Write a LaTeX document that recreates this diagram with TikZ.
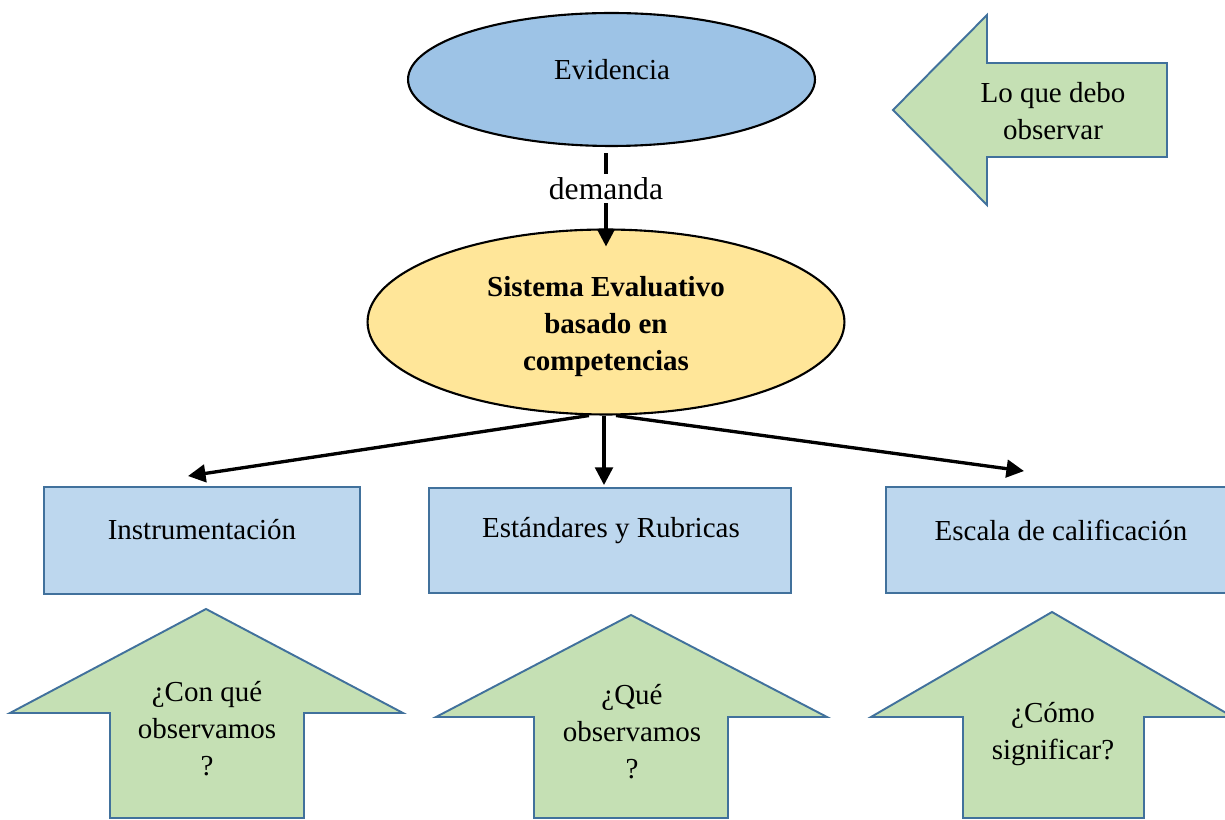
\documentclass[tikz,border=0pt]{standalone}
\usepackage{fontspec}
\setmainfont{Liberation Serif}
\usetikzlibrary{shapes.geometric,arrows.meta,calc}
\definecolor{evblue}{HTML}{9DC3E6}
\definecolor{sisyel}{HTML}{FFE699}
\definecolor{boxblue}{HTML}{BDD7EE}
\definecolor{edgeblue}{HTML}{41719C}
\definecolor{shapegreen}{HTML}{C5E0B4}
\begin{document}
\begin{tikzpicture}[x=0.02cm,y=-0.02cm,
  every node/.style={font=\fontsize{16.5}{21}\selectfont},
  oval/.style={ellipse,draw=black,line width=1.2pt,inner sep=0pt},
  box/.style={rectangle,draw=edgeblue,fill=boxblue,line width=1.1pt,inner sep=0pt},
  greenshape/.style={draw=edgeblue,fill=shapegreen,line width=1.1pt,line join=miter},
  txt/.style={align=center,inner sep=1pt},
  conn/.style={line width=1.9pt,-{Triangle[length=10pt,width=10pt]}}]
\useasboundingbox (0,0) rectangle (1225,820);
\clip (0,0) rectangle (1225,820);

% ellipses
\node[oval,fill=evblue,minimum width=8.14cm,minimum height=2.66cm] (ev) at (611.5,79.5) {};
\node[txt] (evt) at (612,70) {Evidencia};
\node[oval,fill=sisyel,minimum width=9.54cm,minimum height=3.7cm,align=center,font=\fontsize{16.5}{21}\selectfont\bfseries] (sis) at (606,322)
  {\rule{0pt}{16.5pt}Sistema Evaluativo\\ basado en\\ competencias};

% boxes
\node[box,minimum width=6.33cm,minimum height=2.14cm] (b1) at (202,540.5) {};
\node[txt] (b1t) at (202,530) {Instrumentación};
\node[box,minimum width=7.24cm,minimum height=2.1cm] (b2) at (610,540.5) {};
\node[txt] (b2t) at (611,531) {Estándares y Rubricas};
\node[box,minimum width=7.0cm,minimum height=2.12cm] (b3) at (1061,540) {};
\node[txt] (b3t) at (1061,530) {Escala de calificación};

% connectors
\draw[conn] ($(ev.south)+(-5.5,6)$) -- ($(sis.north)+(0,18)$)
  node[pos=0.38,fill=white,inner xsep=1pt,inner ysep=2pt,font=\fontsize{18}{22}\selectfont] (dem) {demanda};
\draw[conn] ($(sis.south)+(-17,0)$) -- ($(b1.north)+(-14,-10)$);
\draw[conn] ($(sis.south)+(-2,0)$) -- ($(b2.north)+(-6,-2)$);
\draw[conn] ($(sis.south)+(10,0)$) -- ($(b3.north)+(-37,-15)$);

% green arrow shapes
\draw[greenshape] (893,110) -- (987,15) -- (987,63) -- (1167,63) -- (1167,157) -- (987,157) -- (987,205) -- cycle;
\node[txt] (lq) at (1053,111.5) {Lo que debo\\observar};

\draw[greenshape] (206,609) -- (403,713) -- (304,713) -- (304,818) -- (110,818) -- (110,713) -- (10,713) -- cycle;
\node[txt] (q1) at (207,729) {¿Con qué\\observamos\\?};

\draw[greenshape] (631,615) -- (827,717) -- (728,717) -- (728,818) -- (534,818) -- (534,717) -- (436,717) -- cycle;
\node[txt] (q2) at (632,732) {¿Qué\\observamos\\?};

\draw[greenshape] (1052,612) -- (1233,717) -- (1144,717) -- (1144,818) -- (963,818) -- (963,717) -- (871,717) -- cycle;
\node[txt] (q3) at (1053,734.5) {¿Cómo\\significar?};
\end{tikzpicture}
\end{document}
